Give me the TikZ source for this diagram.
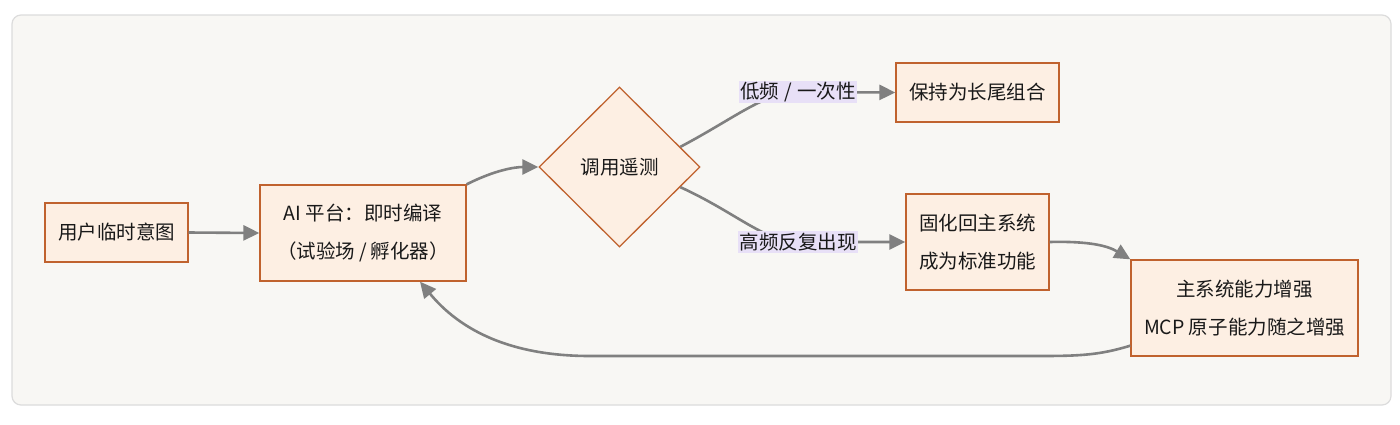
\documentclass[tikz,border=0pt]{standalone}
\usepackage{fontspec}
\newfontfamily\cjk{Noto Sans CJK SC}
\usetikzlibrary{shapes.geometric,arrows.meta,calc}
\definecolor{nodefill}{HTML}{FDEFE3}
\definecolor{nodeline}{HTML}{C0622E}
\definecolor{edgecol}{HTML}{808080}
\definecolor{lblfill}{HTML}{E8E0F7}
\definecolor{panelfill}{HTML}{F8F7F4}
\definecolor{panelline}{HTML}{DCDCDC}
\tikzset{
  box/.style={draw=nodeline, fill=nodefill, line width=1.3pt, inner sep=0pt, align=center,
    font=\cjk\fontsize{19.5}{38}\selectfont, text=black!90},
  dia/.style={diamond, aspect=1, draw=nodeline, fill=nodefill, line width=1.3pt, inner sep=0pt,
    minimum width=161pt, minimum height=160pt, font=\cjk\fontsize{19.5}{38}\selectfont, text=black!90},
  lbl/.style={fill=lblfill, inner sep=1.5pt, font=\cjk\fontsize{19.5}{22}\selectfont, text=black!90},
  edge/.style={draw=edgecol, line width=2.6pt, -{Triangle[length=16pt,width=15pt]}},
}
\begin{document}
\begin{tikzpicture}[x=1pt,y=-1pt]
\useasboundingbox (0,0) rectangle (1400,424);
\fill[white] (0,0) rectangle (1400,424);
\draw[panelline, fill=panelfill, line width=1.2pt, rounded corners=9pt] (12,15) rectangle (1391,405);

\node[box, minimum width=143pt, minimum height=59pt] (user) at (116.5,232.5) {用户临时意图};
\node[box, minimum width=206pt, minimum height=96pt] (ai) at (363,233) {AI 平台：即时编译\\（试验场\hspace{4pt}/\hspace{4pt}孵化器）};
\node[dia] (tel) at (619.5,167) {调用遥测};
\node[box, minimum width=163pt, minimum height=59pt] (keep) at (977.5,92.5) {保持为长尾组合};
\node[box, minimum width=143pt, minimum height=96pt] (solid) at (977.5,242) {固化回主系统\\成为标准功能};
\node[box, minimum width=227pt, minimum height=96pt] (main) at (1244.5,308) {主系统能力增强\\MCP 原子能力随之增强};

\coordinate (lowc) at (798,92);
\coordinate (highc) at (798,242);

\draw[edge] (user.east) -- (ai.west);
\draw[edge] (ai.north east) .. controls (495,170) and (515,167) .. (tel.west);
\draw[edge] ($(tel.north east)!0.5!(tel.east)$) .. controls (735,118) and (765,92) .. (lowc) -- (keep.west);
\draw[edge] ($(tel.south east)!0.5!(tel.east)$) .. controls (735,212) and (765,242) .. (highc) -- (solid.west);
\draw[edge] (solid.east) .. controls (1090,241) and (1108,246) .. (main.north west);
\draw[edge] ($(main.south west)+(0,-11)$) .. controls (1100,355) and (1080,356) .. (1040,356)
   -- (590,356) .. controls (510,356) and (460,330) .. ($(ai.south)+(57,0)$);

\node[lbl] (low) at (lowc) {低频\hspace{5pt}/\hspace{5pt}一次性};
\node[lbl] (high) at (highc) {高频反复出现};
\end{tikzpicture}
\end{document}
